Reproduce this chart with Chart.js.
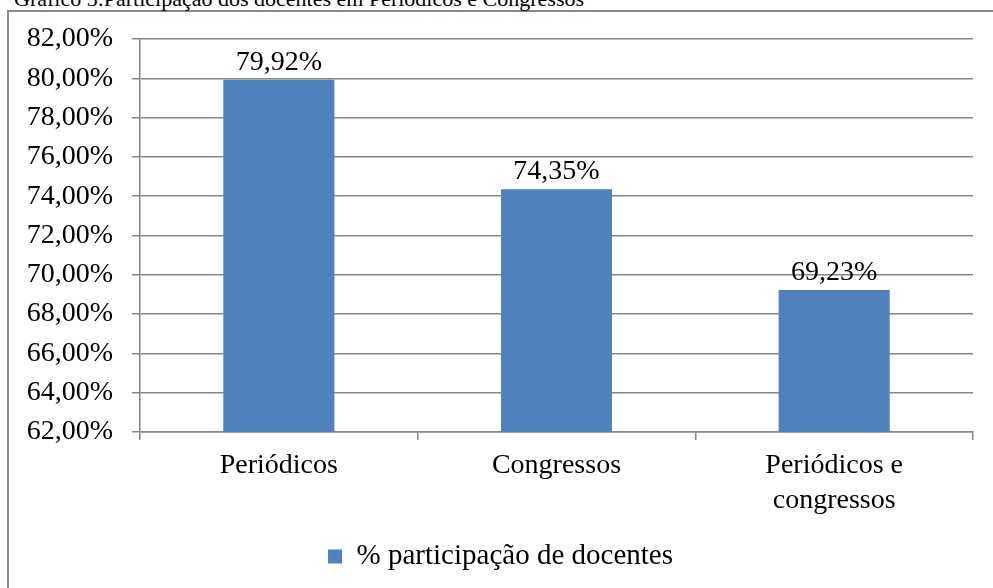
<!DOCTYPE html>
<html>
<head>
<meta charset="utf-8">
<script src="https://cdn.jsdelivr.net/npm/chart.js@4"></script>
<style>
  html, body { margin: 0; padding: 0; background: #fff; overflow: hidden; }
  #wrap { position: relative; width: 993px; height: 588px; overflow: hidden; }
  #frame { position: absolute; left: 7px; top: 10px; width: 1100px; height: 700px; border: 2px solid #8a8a8a; box-sizing: border-box; }
  #title { position: absolute; left: 14px; top: -12px; font: 22px/22px "Liberation Serif", serif; color: #000; white-space: nowrap; }
  canvas { position: absolute; left: 0; top: 0; }
</style>
</head>
<body>
<div id="wrap">
  <div id="frame"></div>
  <div id="title">Gráfico 3:Participação dos docentes em Periódicos e Congressos</div>
  <canvas id="chart" width="993" height="588"></canvas>
</div>
<script>
const categories = ['Periódicos', 'Congressos', ['Periódicos e', 'congressos']];
const seriesName = '% participação de docentes';
const participacao = [79.92, 74.35, 69.23];
const yMin = 62;
const yMax = 82;
const yStep = 2;

const fmt = v => v.toFixed(2).replace('.', ',') + '%';
const serif = 'Liberation Serif';

// values above the bars
const barLabels = {
  id: 'barLabels',
  afterDatasetsDraw(chart) {
    const ctx = chart.ctx;
    ctx.save();
    ctx.font = '28px "' + serif + '"';
    ctx.fillStyle = '#000';
    ctx.textAlign = 'center';
    ctx.textBaseline = 'alphabetic';
    chart.getDatasetMeta(0).data.forEach((bar, i) => {
      ctx.fillText(fmt(participacao[i]), bar.x, bar.y - 10);
    });
    ctx.restore();
  }
};

// legend sits a bit right of the canvas centre in the original
const legendShift = {
  id: 'legendShift',
  afterLayout(chart) {
    chart.legend.left += 14;
    chart.legend.right += 14;
  }
};

new Chart(document.getElementById('chart'), {
  type: 'bar',
  data: {
    labels: categories,
    datasets: [{
      label: seriesName,
      data: participacao,
      backgroundColor: '#4f81bd',
      barPercentage: 0.4,
      categoryPercentage: 1
    }]
  },
  options: {
    responsive: false,
    devicePixelRatio: 1,
    animation: false,
    layout: { padding: { left: 0, top: 39, right: 20, bottom: 7 } },
    plugins: {
      legend: {
        position: 'bottom',
        labels: {
          color: '#000',
          font: { family: serif, size: 29 },
          boxWidth: 14,
          boxHeight: 14,
          padding: 8
        }
      },
      tooltip: { enabled: false }
    },
    scales: {
      y: {
        min: yMin,
        max: yMax,
        ticks: {
          stepSize: yStep,
          callback: v => fmt(v),
          color: '#000',
          font: { family: serif, size: 28 },
          padding: 19
        },
        grid: { color: '#868686', lineWidth: 1.5, tickLength: 8 },
        border: { color: '#868686', width: 1.5 },
        afterFit: s => { s.width = 140; }
      },
      x: {
        ticks: {
          color: '#000',
          font: { family: serif, size: 28, lineHeight: 1.22 },
          padding: 9,
          maxRotation: 0
        },
        grid: { offset: true, drawOnChartArea: false, color: '#868686', lineWidth: 1.5, tickLength: 8 },
        border: { color: '#868686', width: 1.5 },
        afterFit: s => { s.height = 102; }
      }
    }
  },
  plugins: [barLabels, legendShift]
});
</script>
</body>
</html>
